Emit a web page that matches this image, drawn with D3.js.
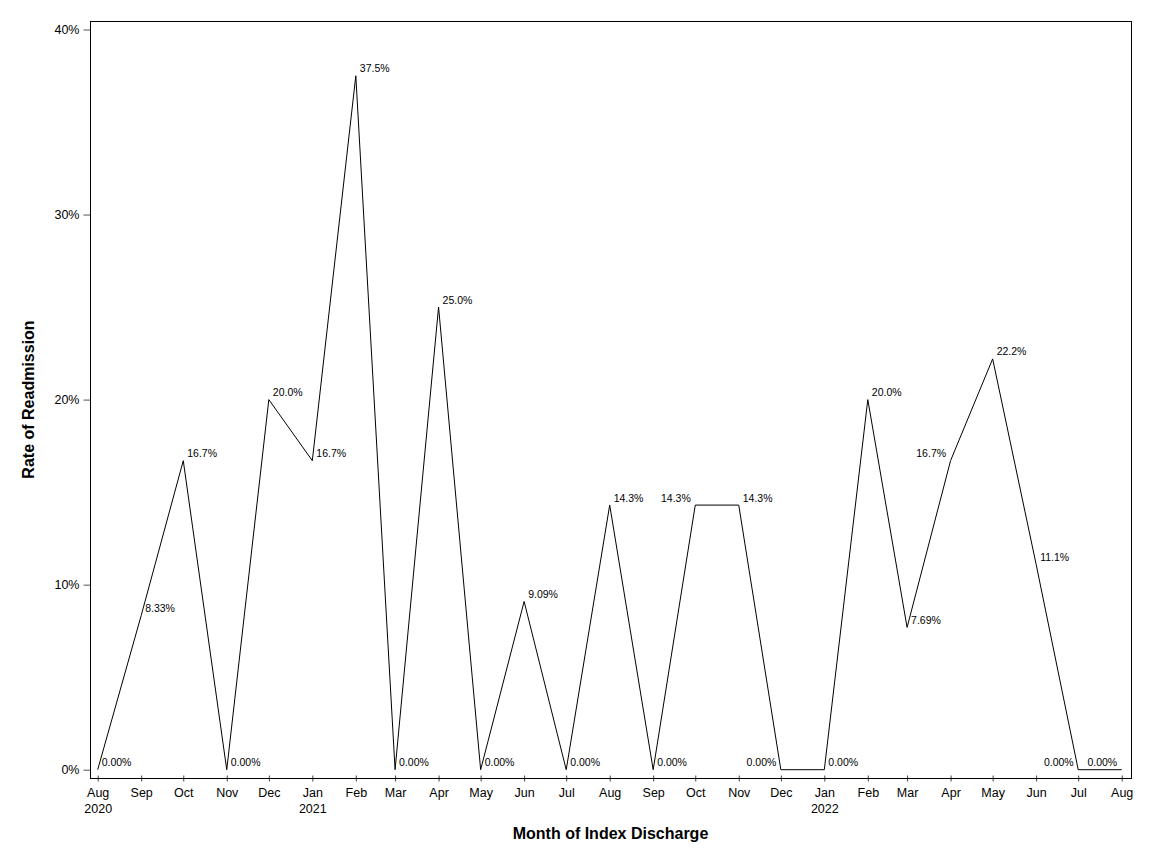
<!DOCTYPE html>
<html>
<head>
<meta charset="utf-8">
<script src="https://cdn.jsdelivr.net/npm/d3@7"></script>
<style>
    body { margin: 0; background: #fff; }
    svg { display: block; font-family: "Liberation Sans", Arial, sans-serif; }
</style>
</head>
<body>
<svg id="chart" width="1152" height="864"></svg>
<script>
// month of index discharge and readmission rate (fraction)
var months = ["2020-08", "2020-09", "2020-10", "2020-11", "2020-12", "2021-01", "2021-02", "2021-03",
    "2021-04", "2021-05", "2021-06", "2021-07", "2021-08", "2021-09", "2021-10", "2021-11", "2021-12",
    "2022-01", "2022-02", "2022-03", "2022-04", "2022-05", "2022-06", "2022-07", "2022-08"];
var rates = [0, 0.0833, 0.167, 0, 0.200, 0.167, 0.375, 0, 0.250, 0, 0.0909, 0, 0.143, 0, 0.143, 0.143, 0,
    0, 0.200, 0.0769, 0.167, 0.222, 0.111, 0, 0];
// which side of the point each data label sits on
var labelSide = ["r", "r", "r", "r", "r", "r", "r", "r", "r", "r", "r", "r", "r", "r", "l", "r", "l",
    "r", "r", "r", "l", "r", "r", "l", "l"];
var yTicks = [0, 0.1, 0.2, 0.3, 0.4];
var yearLabels = { "2020-08": "2020", "2021-01": "2021", "2022-01": "2022" };

(function () {
    var svg = d3.select("#chart"),
        frame = { left: 90, right: 1131, top: 21, bottom: 778 },
        parse = d3.timeParse("%Y-%m"),
        fmtMonth = d3.timeFormat("%Y-%m");

    var data = months.map(function (m, i) {
        return { date: parse(m), rate: rates[i], side: labelSide[i] };
    });

    var x = d3.scaleTime()
        .domain(d3.extent(data, function (d) { return d.date; }))
        .range([97.7, 1121.7]);

    var y = d3.scaleLinear()
        .domain([0, 0.4])
        .range([769.7, 29.5]);

    // x axis: ticks straddle the frame line
    var xAxis = svg.append("g")
        .attr("transform", "translate(0," + (frame.bottom + 0.5) + ")")
        .call(d3.axisBottom(x)
            .tickValues(data.map(function (d) { return d.date; }))
            .tickFormat(d3.timeFormat("%b"))
            .tickSizeInner(3)
            .tickSizeOuter(0)
            .tickPadding(7));
    xAxis.select(".domain").remove();
    xAxis.selectAll(".tick line")
        .attr("y1", -3)
        .attr("stroke", "#444");
    xAxis.selectAll(".tick text")
        .attr("font-size", "12.5px")
        .attr("font-family", "Liberation Sans, Arial, sans-serif")
        .attr("fill", "#000")
        .each(function (d) {
            var yr = yearLabels[fmtMonth(d)];
            if (yr) {
                d3.select(this).append("tspan")
                    .attr("x", 0)
                    .attr("dy", "1.28em")
                    .text(yr);
            }
        });

    // y axis
    var yAxis = svg.append("g")
        .attr("transform", "translate(" + (frame.left + 0.5) + ",0)")
        .call(d3.axisLeft(y)
            .tickValues(yTicks)
            .tickFormat(d3.format(".0%"))
            .tickSizeInner(7)
            .tickSizeOuter(0)
            .tickPadding(4));
    yAxis.select(".domain").remove();
    yAxis.selectAll(".tick line").attr("stroke", "#555");
    yAxis.selectAll(".tick text")
        .attr("font-size", "12.5px")
        .attr("font-family", "Liberation Sans, Arial, sans-serif")
        .attr("fill", "#000");

    // frame
    svg.append("rect")
        .attr("x", frame.left + 0.5)
        .attr("y", frame.top + 0.5)
        .attr("width", frame.right - frame.left)
        .attr("height", frame.bottom - frame.top)
        .attr("fill", "none")
        .attr("stroke", "#000")
        .attr("stroke-width", 1);

    // the line
    var line = d3.line()
        .x(function (d) { return x(d.date); })
        .y(function (d) { return y(d.rate); });

    svg.append("path")
        .datum(data)
        .attr("d", line)
        .attr("fill", "none")
        .attr("stroke", "#000")
        .attr("stroke-width", 1);

    // data labels
    var fmtRate = d3.format(".3p");
    svg.append("g")
        .selectAll("text")
        .data(data)
        .enter().append("text")
        .attr("x", function (d) { return x(d.date) + (d.side === "l" ? -4.5 : 4); })
        .attr("y", function (d) { return y(d.rate) - 3.5; })
        .attr("text-anchor", function (d) { return d.side === "l" ? "end" : "start"; })
        .attr("font-size", "10.5px")
        .attr("fill", "#000")
        .text(function (d) { return fmtRate(d.rate); });

    // axis titles
    svg.append("text")
        .attr("x", (frame.left + frame.right) / 2)
        .attr("y", 839)
        .attr("text-anchor", "middle")
        .attr("font-size", "16px")
        .attr("font-weight", "bold")
        .text("Month of Index Discharge");

    svg.append("text")
        .attr("transform", "translate(34," + (frame.top + frame.bottom) / 2 + ") rotate(-90)")
        .attr("text-anchor", "middle")
        .attr("font-size", "16px")
        .attr("font-weight", "bold")
        .text("Rate of Readmission");
})();
</script>
</body>
</html>
